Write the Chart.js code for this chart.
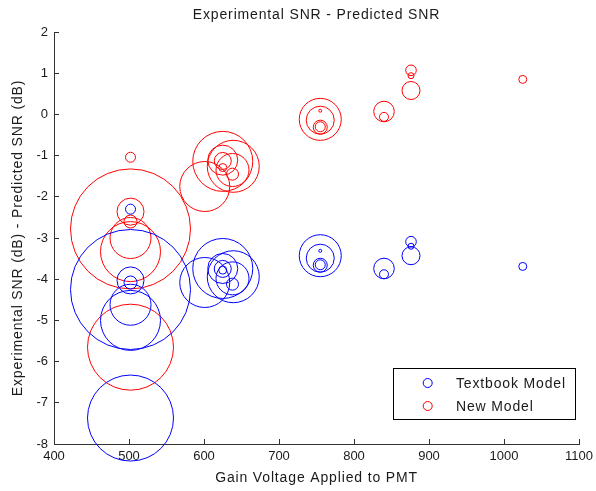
<!DOCTYPE html>
<html>
<head>
<meta charset="utf-8">
<script src="https://cdn.jsdelivr.net/npm/chart.js@4"></script>
<style>
  html, body { margin: 0; padding: 0; background: #fff; }
  canvas { display: block; }
</style>
</head>
<body>
<canvas id="snr-chart" width="596" height="491"></canvas>
<script>
// gain voltage (V) of each run
const gainVoltage = [
  502, 502, 502, 502, 502, 502, 502,
  625, 639, 601, 625, 625, 625, 638, 638,
  755, 755, 755, 755, 755,
  840, 840,
  876, 876, 876,
  1025
];
// experimental minus predicted SNR (dB), textbook model
const textbookModel = [
  -2.30, -4.25, -7.37, -4.03, -4.08, -4.62, -5.00,
  -3.74, -3.94, -4.08, -3.74, -3.75, -3.78, -3.98, -4.12,
  -3.43, -3.49, -3.66, -3.65, -3.31,
  -3.74, -3.88,
  -3.09, -3.20, -3.43,
  -3.69
];
// experimental minus predicted SNR (dB), new model
const newModel = [
  -1.04, -2.78, -5.65, -2.36, -2.60, -3.00, -3.33,
  -1.14, -1.26, -1.75, -1.11, -1.13, -1.29, -1.35, -1.45,
  -0.12, -0.14, -0.31, -0.30, 0.09,
  0.07, -0.06,
  1.07, 0.94, 0.58,
  0.85
];
// circle size of each run
const circleSize = [
  5, 60, 43, 13.5, 6.5, 20.5, 30,
  30, 26, 25, 15, 8.5, 4, 16.5, 6,
  21, 14, 7, 5, 1.5,
  10.3, 4.5,
  5.3, 3, 9,
  4
];
const xTickValues = [400, 500, 600, 700, 800, 900, 1000, 1100];
const yTickValues = [-8, -7, -6, -5, -4, -3, -2, -1, 0, 1, 2];

const TEXT_COLOR = '#1a1a1a';
const AXIS_COLOR = '#333333';
const FONT = '"Liberation Sans", Arial, sans-serif';

function toPoints(ys) {
  return gainVoltage.map((x, i) => ({ x: x, y: ys[i], r: circleSize[i] }));
}

// title, axis labels and boxed legend
const labelsPlugin = {
  id: 'labels',
  afterDraw(chart) {
    const ctx = chart.ctx;
    const area = chart.chartArea;
    const midX = (area.left + area.right) / 2;
    const midY = (area.top + area.bottom) / 2;

    ctx.save();
    ctx.letterSpacing = '0.85px';
    ctx.font = '14px ' + FONT;
    ctx.fillStyle = TEXT_COLOR;
    ctx.textAlign = 'center';
    ctx.textBaseline = 'alphabetic';

    ctx.fillText('Experimental SNR - Predicted SNR', midX, 18.5);
    ctx.fillText('Gain Voltage Applied to PMT', midX, 482);

    ctx.save();
    ctx.translate(21.5, midY);
    ctx.rotate(-Math.PI / 2);
    ctx.fillText('Experimental SNR (dB) - Predicted SNR (dB)', 0, 0);
    ctx.restore();

    // legend
    const box = { left: 393, top: 368, right: 575, bottom: 419 };
    ctx.fillStyle = '#ffffff';
    ctx.fillRect(box.left, box.top, box.right - box.left, box.bottom - box.top);
    ctx.strokeStyle = '#000000';
    ctx.lineWidth = 1;
    ctx.strokeRect(box.left + 0.5, box.top + 0.5, box.right - box.left, box.bottom - box.top);

    ctx.textAlign = 'left';
    chart.data.datasets.forEach((ds, i) => {
      const cy = 383 + i * 23;
      ctx.beginPath();
      ctx.arc(427.7, cy, 4.5, 0, Math.PI * 2);
      ctx.strokeStyle = ds.borderColor;
      ctx.stroke();
      ctx.fillStyle = TEXT_COLOR;
      ctx.fillText(ds.label, 456, cy + 5);
    });
    ctx.restore();
  }
};

new Chart(document.getElementById('snr-chart'), {
  type: 'bubble',
  data: {
    datasets: [
      {
        label: 'Textbook Model',
        data: toPoints(textbookModel),
        borderColor: '#0000ff',
        backgroundColor: 'rgba(0,0,0,0)',
        borderWidth: 1,
        clip: false
      },
      {
        label: 'New Model',
        data: toPoints(newModel),
        borderColor: '#ff0000',
        backgroundColor: 'rgba(0,0,0,0)',
        borderWidth: 1,
        clip: false
      }
    ]
  },
  options: {
    responsive: false,
    animation: false,
    devicePixelRatio: 1,
    layout: {
      autoPadding: false,
      padding: { left: 0, right: 17, top: 32, bottom: 0 }
    },
    plugins: {
      legend: { display: false },
      title: { display: false },
      tooltip: { enabled: false }
    },
    scales: {
      x: {
        type: 'linear',
        min: 400,
        max: 1100,
        afterBuildTicks: scale => { scale.ticks = xTickValues.map(v => ({ value: v })); },
        afterFit: scale => {
          scale.height = 47;
          scale.paddingLeft = 0;
          scale.paddingRight = 0;
        },
        ticks: {
          padding: 10,
          maxRotation: 0,
          color: TEXT_COLOR,
          font: { family: FONT, size: 13 },
          callback: v => String(v)
        },
        grid: {
          drawOnChartArea: false,
          drawTicks: true,
          tickLength: -5,
          color: AXIS_COLOR
        },
        border: { display: true, color: AXIS_COLOR, width: 1 }
      },
      y: {
        type: 'linear',
        min: -8,
        max: 2,
        afterBuildTicks: scale => { scale.ticks = yTickValues.map(v => ({ value: v })); },
        afterFit: scale => {
          scale.width = 54;
          scale.paddingTop = 0;
          scale.paddingBottom = 0;
        },
        ticks: {
          padding: 11,
          color: TEXT_COLOR,
          font: { family: FONT, size: 13 },
          callback: v => String(v)
        },
        grid: {
          drawOnChartArea: false,
          drawTicks: true,
          tickLength: -5,
          color: AXIS_COLOR
        },
        border: { display: true, color: AXIS_COLOR, width: 1 }
      }
    }
  },
  plugins: [labelsPlugin]
});
</script>
</body>
</html>
